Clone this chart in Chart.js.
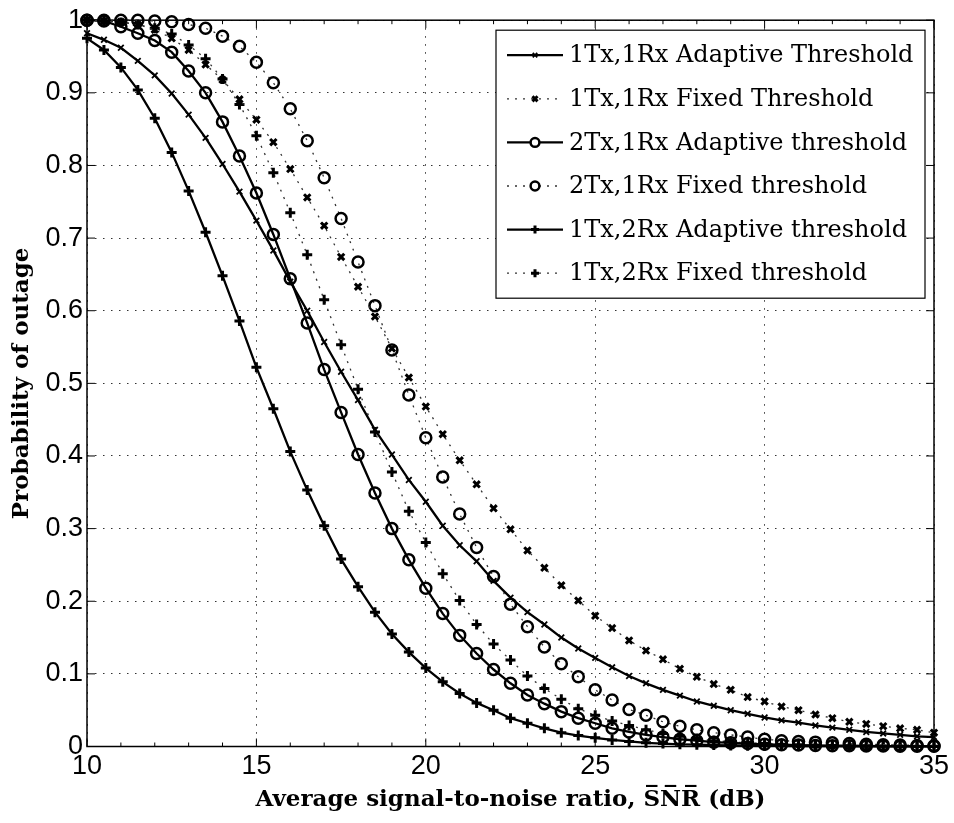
<!DOCTYPE html>
<html lang="en">
<head>
<meta charset="UTF-8">
<title>Probability of outage vs average SNR</title>
<script src="https://cdn.jsdelivr.net/npm/chart.js"></script>
<style>
  body { margin: 0; background: #fff; }
  #wrap { width: 954px; height: 823px; }
</style>
</head>
<body>
<div id="wrap"><canvas id="outageChart"></canvas></div>
<script>
// SNR axis (dB), one marker every 0.5 dB
const snr = [10, 10.5, 11, 11.5, 12, 12.5, 13, 13.5, 14, 14.5, 15, 15.5, 16, 16.5, 17, 17.5,
  18, 18.5, 19, 19.5, 20, 20.5, 21, 21.5, 22, 22.5, 23, 23.5, 24, 24.5, 25, 25.5, 26, 26.5,
  27, 27.5, 28, 28.5, 29, 29.5, 30, 30.5, 31, 31.5, 32, 32.5, 33, 33.5, 34, 34.5, 35];

const adaptive1x1 = [0.982, 0.973, 0.962, 0.944, 0.924, 0.899, 0.870, 0.838, 0.802, 0.764,
  0.724, 0.683, 0.640, 0.600, 0.557, 0.516, 0.477, 0.436, 0.402, 0.367, 0.337, 0.304, 0.277,
  0.255, 0.228, 0.205, 0.185, 0.168, 0.150, 0.135, 0.122, 0.109, 0.097, 0.087, 0.078, 0.070,
  0.062, 0.056, 0.050, 0.045, 0.040, 0.036, 0.033, 0.029, 0.026, 0.023, 0.020, 0.018, 0.016,
  0.014, 0.013];
const fixed1x1 = [1.000, 0.999, 0.998, 0.994, 0.987, 0.975, 0.959, 0.939, 0.918, 0.891,
  0.863, 0.832, 0.795, 0.756, 0.717, 0.674, 0.633, 0.592, 0.548, 0.508, 0.468, 0.430, 0.394,
  0.361, 0.328, 0.299, 0.270, 0.246, 0.222, 0.201, 0.180, 0.163, 0.146, 0.132, 0.120, 0.107,
  0.096, 0.086, 0.078, 0.068, 0.062, 0.055, 0.050, 0.044, 0.039, 0.034, 0.031, 0.028, 0.025,
  0.023, 0.019];
const adaptive2x1 = [1.000, 0.999, 0.991, 0.982, 0.972, 0.956, 0.930, 0.900, 0.860, 0.813,
  0.762, 0.705, 0.644, 0.583, 0.519, 0.460, 0.402, 0.349, 0.300, 0.257, 0.218, 0.183, 0.153,
  0.128, 0.106, 0.087, 0.071, 0.059, 0.048, 0.039, 0.032, 0.025, 0.020, 0.016, 0.013, 0.010,
  0.008, 0.006, 0.005, 0.004, 0.003, 0.0025, 0.002, 0.0015, 0.0012, 0.001, 0.0008, 0.0006,
  0.0005, 0.0004, 0.0003];
const fixed2x1 = [1.000, 1.000, 1.000, 1.000, 0.999, 0.998, 0.994, 0.989, 0.978, 0.964,
  0.942, 0.914, 0.878, 0.834, 0.783, 0.727, 0.667, 0.607, 0.546, 0.484, 0.425, 0.371, 0.320,
  0.274, 0.234, 0.196, 0.165, 0.137, 0.114, 0.096, 0.078, 0.064, 0.051, 0.043, 0.034, 0.028,
  0.023, 0.019, 0.016, 0.013, 0.010, 0.008, 0.007, 0.006, 0.005, 0.004, 0.003, 0.0025, 0.002,
  0.0015, 0.001];
const adaptive1x2 = [0.975, 0.959, 0.935, 0.904, 0.865, 0.818, 0.765, 0.708, 0.648, 0.586,
  0.522, 0.465, 0.406, 0.353, 0.304, 0.258, 0.220, 0.185, 0.155, 0.130, 0.108, 0.089, 0.073,
  0.060, 0.050, 0.039, 0.032, 0.025, 0.019, 0.015, 0.012, 0.009, 0.007, 0.005, 0.004, 0.003,
  0.0025, 0.002, 0.0015, 0.0012, 0.001, 0.0008, 0.0006, 0.0005, 0.0004, 0.0003, 0.0002,
  0.0002, 0.0001, 0.0001, 0.0001];
const fixed1x2 = [1.000, 0.999, 0.997, 0.994, 0.989, 0.981, 0.966, 0.947, 0.919, 0.884,
  0.841, 0.790, 0.735, 0.677, 0.615, 0.553, 0.492, 0.433, 0.378, 0.324, 0.281, 0.238, 0.201,
  0.168, 0.141, 0.119, 0.097, 0.080, 0.065, 0.052, 0.043, 0.035, 0.029, 0.023, 0.018, 0.014,
  0.011, 0.008, 0.0065, 0.005, 0.004, 0.003, 0.0025, 0.002, 0.0015, 0.0012, 0.001, 0.0008,
  0.0006, 0.0005, 0.0004];

const labels = ['1Tx,1Rx Adaptive Threshold', '1Tx,1Rx Fixed Threshold',
  '2Tx,1Rx Adaptive threshold', '2Tx,1Rx Fixed threshold',
  '1Tx,2Rx Adaptive threshold', '1Tx,2Rx Fixed threshold'];

const solid = [];
const dotted = [2, 6];

function series(label, values, dash, style, radius, markerWidth) {
  return {
    label: label,
    data: snr.map((x, i) => ({ x: x, y: values[i] })),
    borderColor: dash.length ? '#333' : '#000',
    borderWidth: dash.length ? 1.3 : 2.3,
    borderDash: dash,
    pointStyle: style,
    pointRadius: radius,
    pointHoverRadius: radius,
    pointBorderWidth: markerWidth,
    pointBorderColor: '#000',
    pointBackgroundColor: 'rgba(0,0,0,0)',
    tension: 0,
    fill: false,
    clip: false
  };
}

// frame round the plot with inward tick marks, like the original figure
const frameTicks = {
  id: 'frameTicks',
  beforeDatasetsDraw(chart) {
    const { ctx, chartArea: a, scales: { x, y } } = chart;
    ctx.save();
    ctx.strokeStyle = '#000';
    ctx.lineWidth = 1.5;
    ctx.strokeRect(a.left, a.top, a.right - a.left, a.bottom - a.top);
    ctx.lineWidth = 1;
    ctx.beginPath();
    x.ticks.forEach(t => {
      const px = x.getPixelForValue(t.value);
      const len = t.value % 5 === 0 ? 8 : 4;
      ctx.moveTo(px, a.bottom); ctx.lineTo(px, a.bottom - len);
      ctx.moveTo(px, a.top); ctx.lineTo(px, a.top + len);
    });
    y.ticks.forEach(t => {
      const py = y.getPixelForValue(t.value);
      ctx.moveTo(a.left, py); ctx.lineTo(a.left + 8, py);
      ctx.moveTo(a.right, py); ctx.lineTo(a.right - 8, py);
    });
    ctx.stroke();
    ctx.restore();
  }
};

// boxed legend inside the top right corner of the plot
const boxLegend = {
  id: 'boxLegend',
  afterDatasetsDraw(chart) {
    const { ctx, chartArea: a } = chart;
    const w = 429, h = 268;
    const left = a.right - 9 - w, top = a.top + 10;
    ctx.save();
    ctx.fillStyle = '#fff';
    ctx.fillRect(left, top, w, h);
    ctx.strokeStyle = '#000';
    ctx.lineWidth = 1.2;
    ctx.strokeRect(left, top, w, h);
    ctx.font = '24px "DejaVu Serif"';
    ctx.textBaseline = 'middle';
    chart.data.datasets.forEach((ds, i) => {
      const yy = top + 25 + i * 43.6;
      ctx.strokeStyle = ds.borderColor;
      ctx.lineWidth = ds.borderWidth;
      ctx.setLineDash(ds.borderDash);
      ctx.beginPath();
      ctx.moveTo(left + 11, yy);
      ctx.lineTo(left + 67, yy);
      ctx.stroke();
      ctx.setLineDash([]);
      ctx.strokeStyle = '#000';
      ctx.lineWidth = ds.pointBorderWidth;
      ctx.fillStyle = ds.pointStyle === 'circle' ? '#fff' : '#000';
      Chart.helpers.drawPoint(ctx, {
        pointStyle: ds.pointStyle, radius: ds.pointRadius * 0.8, rotation: 0,
        borderWidth: ds.pointBorderWidth
      }, left + 39, yy);
      ctx.fillStyle = '#000';
      ctx.fillText(ds.label, left + 73, yy + 1);
    });
    ctx.restore();
  }
};

const gridColor = '#333';

new Chart(document.getElementById('outageChart'), {
  type: 'line',
  data: {
    datasets: [
      series(labels[0], adaptive1x1, solid, 'crossRot', 4, 1.8),
      series(labels[1], fixed1x1, dotted, 'crossRot', 4.5, 3),
      series(labels[2], adaptive2x1, solid, 'circle', 5.5, 2.5),
      series(labels[3], fixed2x1, dotted, 'circle', 5.5, 2.5),
      series(labels[4], adaptive1x2, solid, 'cross', 5, 3),
      series(labels[5], fixed1x2, dotted, 'cross', 5, 3)
    ]
  },
  options: {
    responsive: true,
    maintainAspectRatio: false,
    animation: false,
    events: [],
    layout: { padding: { top: 17, right: 20, left: 0, bottom: 0 } },
    plugins: {
      legend: { display: false },
      tooltip: { enabled: false }
    },
    scales: {
      x: {
        type: 'linear',
        min: 10,
        max: 35,
        afterFit(scale) { scale.height = 76.5; },
        ticks: {
          stepSize: 1,
          autoSkip: false,
          maxRotation: 0,
          padding: 4,
          color: '#000',
          font: { family: '"Liberation Sans", Arial, sans-serif', size: 27 },
          callback: v => (v % 5 === 0 ? String(v) : '')
        },
        grid: {
          drawTicks: false,
          lineWidth: 1,
          color: c => (c.tick && c.tick.value % 5 === 0 ? gridColor : 'rgba(0,0,0,0)')
        },
        border: { display: false, dash: [1.5, 6.5] },
        title: {
          display: true,
          text: 'Average signal-to-noise ratio, S\u0305N\u0305R\u0305 (dB)',
          color: '#000',
          font: { family: '"DejaVu Serif", serif', size: 23, weight: 'bold' },
          padding: { top: 0, bottom: 9 }
        }
      },
      y: {
        min: 0,
        max: 1,
        afterFit(scale) { scale.width = 87; },
        ticks: {
          stepSize: 0.1,
          padding: 4,
          color: '#000',
          font: { family: '"Liberation Sans", Arial, sans-serif', size: 27 },
          callback: v => {
            const r = Math.round(v * 10) / 10;
            return r === 0 || r === 1 ? String(r) : r.toFixed(1);
          }
        },
        grid: { drawTicks: false, lineWidth: 1, color: gridColor },
        border: { display: false, dash: [1.5, 6.5] },
        title: {
          display: true,
          text: 'Probability of outage',
          color: '#000',
          font: { family: '"DejaVu Serif", serif', size: 23, weight: 'bold' },
          padding: { top: 8, bottom: 0 }
        }
      }
    }
  },
  plugins: [frameTicks, boxLegend]
});
</script>
</body>
</html>
